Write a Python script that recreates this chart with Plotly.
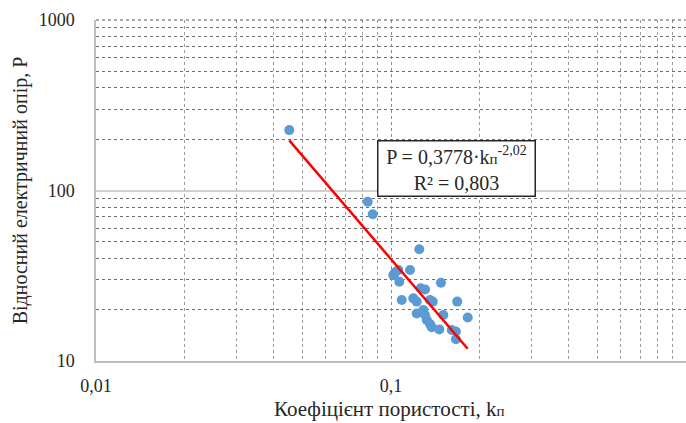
import numpy as np
import plotly.graph_objects as go

# Data
k_p = [0.0452, 0.0834, 0.0867, 0.1247, 0.1160, 0.1032, 0.1018, 0.1059, 0.1067, 0.1477,
       0.1087, 0.1190, 0.1222, 0.1261, 0.1304, 0.1356, 0.1385, 0.1677, 0.1222, 0.1287,
       0.1304, 0.1504, 0.1820, 0.1322, 0.1356, 0.1374, 0.1458, 0.1607, 0.1660, 0.1660]
P = [226, 86, 72.5, 45.2, 34.2, 33.0, 31.9, 34.2, 29.2, 28.8,
     22.8, 23.3, 22.3, 26.7, 26.3, 22.8, 22.3, 22.3, 19.0, 19.9,
     18.6, 18.6, 18.0, 17.4, 16.5, 15.8, 15.3, 15.2, 14.9, 13.4]

coef_a = 0.3778
coef_b = -2.02
r2_text = "0,803"

x_ticks = [0.01, 0.1, 1]
x_ticktext = ["0,01", "0,1", "1"]
y_ticks = [10, 100, 1000]
y_ticktext = ["10", "100", "1000"]

FONT = "Liberation Serif"

xfit = np.exp(np.linspace(np.log(min(k_p)), np.log(max(k_p)), 50))
yfit = coef_a * xfit ** coef_b

fig = go.Figure()
fig.add_trace(go.Scatter(x=k_p, y=P, mode="markers",
                         marker=dict(color="#5b9bd5", size=10, line=dict(width=0)),
                         showlegend=False))
fig.add_trace(go.Scatter(x=xfit, y=yfit, mode="lines",
                         line=dict(color="#ff0000", width=2.5), showlegend=False))

fig.update_xaxes(type="log", range=[-2, 0], tickvals=x_ticks, ticktext=x_ticktext,
                 showgrid=True, gridcolor="#8c8c8c", griddash="dot", gridwidth=1,
                 minor=dict(dtick="D1", showgrid=True, gridcolor="#9a9a9a", griddash="dot",
                            gridwidth=1, ticks=""),
                 showline=True, linecolor="#bfbfbf", linewidth=1.5,
                 zeroline=False, ticks="", ticklabelstandoff=8,
                 tickfont=dict(family=FONT, size=18, color="#262626"))
fig.update_yaxes(type="log", range=[1, 3], tickvals=y_ticks, ticktext=y_ticktext,
                 showgrid=True, gridcolor="#d0d0d0", gridwidth=1.5,
                 minor=dict(dtick="D1", showgrid=True, gridcolor="#6e6e6e", griddash="dot",
                            gridwidth=1, ticks=""),
                 showline=True, linecolor="#bfbfbf", linewidth=1.5,
                 zeroline=False, ticks="", ticklabelstandoff=16,
                 tickfont=dict(family=FONT, size=18, color="#262626"),
                 title=dict(text="Відносний електричний опір, P",
                            font=dict(family=FONT, size=20, color="#262626"), standoff=6))

# dotted top border at 1000
fig.add_shape(type="line", xref="x domain", yref="y domain", x0=0, x1=1, y0=1, y1=1,
              line=dict(color="#555555", width=1.2, dash="dot"))

fig.add_annotation(xref="paper", yref="paper", x=(456 - 96) / 590, y=(361 - 169) / 341,
                   text=("P = 0,3778·k<span style=\"font-size:15px\">п</span>"
                         "<sup>-2,02</sup><br>R² = " + r2_text),
                   showarrow=False, align="center", width=154, height=52,
                   font=dict(family=FONT, size=20, color="#262626"),
                   bordercolor="#262626", borderwidth=1.5, borderpad=1, bgcolor="white")

fig.add_annotation(xref="paper", yref="paper", x=0.498, y=(361 - 409) / 341, yanchor="middle",
                   text="Коефіцієнт пористості, k<span style=\"font-size:15px\">п</span>",
                   showarrow=False, font=dict(family=FONT, size=21, color="#262626"))

fig.update_layout(width=686, height=423, margin=dict(l=96, r=0, t=20, b=62),
                  plot_bgcolor="white", paper_bgcolor="white",
                  font=dict(family=FONT))

fig.write_html("out.html")
